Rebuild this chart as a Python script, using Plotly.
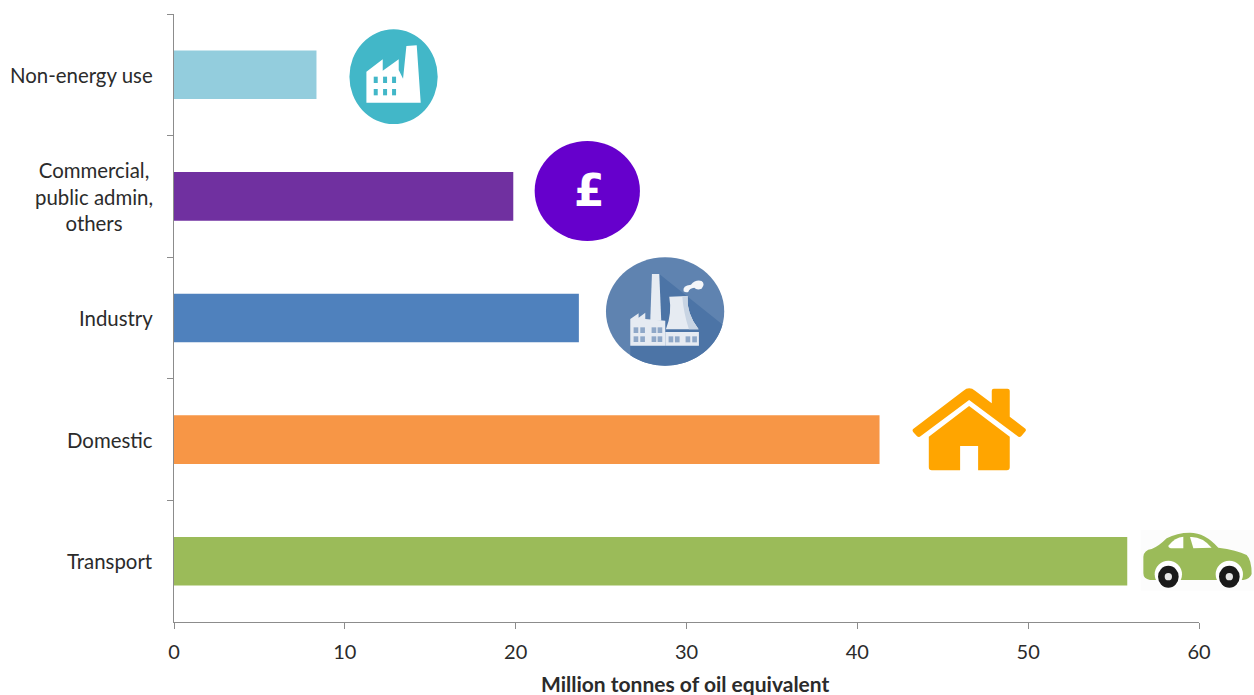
import re
import numpy as np
import plotly.graph_objects as go

# Final energy consumption by sector
sectors = ["Non-energy use", "Commercial,<br>public admin,<br>others", "Industry", "Domestic", "Transport"]
consumption = [8.34, 19.86, 23.7, 41.3, 55.8]
bar_colors = ["#93CDDD", "#7030A0", "#4F81BD", "#F79646", "#9BBB59"]
x_ticks = [0, 10, 20, 30, 40, 50, 60]
x_title = "Million tonnes of oil equivalent"

WIDTH, HEIGHT = 1254, 695
LEFT, RIGHT, TOP, BOTTOM = 173.5, 1199.0, 14.0, 622.0
FONT = "Lato"
TEXT = "#2b2b2b"
AXIS = "#8C8C8C"


def to_paper(px, py):
    return (px - LEFT) / (RIGHT - LEFT), 1 - (py - TOP) / (BOTTOM - TOP)


def icon_path(ox, oy, spec):
    """Turn a path written in 3x icon units, relative to (ox, oy), into paper coordinates."""
    out = []
    for cmd, nums in re.findall(r"([MLQCZ])([^MLQCZ]*)", spec):
        vals = [float(v) for v in re.findall(r"-?\d+\.?\d*", nums)]
        pts = []
        for a, b in zip(vals[::2], vals[1::2]):
            x, y = to_paper(ox + a / 3, oy + b / 3)
            pts.append(f"{x:.5f},{y:.5f}")
        out.append(cmd + " ".join(pts))
    return " ".join(out)


def filled(ox, oy, spec, color):
    return dict(type="path", xref="paper", yref="paper", layer="above",
                path=icon_path(ox, oy, spec), fillcolor=color, line=dict(width=0))


def disc(ox, oy, x0, y0, x1, y1, color):
    ax, ay = to_paper(ox + x0 / 3, oy + y0 / 3)
    bx, by = to_paper(ox + x1 / 3, oy + y1 / 3)
    return dict(type="circle", xref="paper", yref="paper", layer="above",
                x0=ax, x1=bx, y0=by, y1=ay, fillcolor=color, line=dict(width=0))


def box(ox, oy, x0, y0, x1, y1, color):
    return filled(ox, oy, f"M{x0},{y0} L{x1},{y0} L{x1},{y1} L{x0},{y1} Z", color)


shapes = []

# Factory badge beside non-energy use
ox, oy = 340, 20
teal = "#42B7C8"
shapes.append(disc(ox, oy, 27, 28, 292, 312, teal))
shapes.append(filled(ox, oy, "M78,155 L127,118 L127,152 L175,118 L175,150 L188,176 L198,78 L229,76 L241,248 L78,248 Z", "#FFFFFF"))
for wx in (100, 128, 155):
    for wy in (170, 207):
        shapes.append(box(ox, oy, wx, wy, wx + 12, wy + 19, teal))

# Pound badge beside commercial
shapes.append(disc(ox, oy, 583, 363, 899, 663, "#6600CC"))

# Power-station badge beside industry
ox, oy = 600, 250
cx, cy, rx, ry = 194.5, 184.5, 177.5, 162.5
base_blue = "#5F83B0"
shade_blue = "#4C74A6"
window_blue = "#8FA8C8"
shapes.append(disc(ox, oy, cx - rx, cy - ry, cx + rx, cy + ry, base_blue))
arc = np.radians(np.arange(14, 128, 4))
arc_pts = " ".join(f"L{cx + rx * np.cos(t):.1f},{cy + ry * np.sin(t):.1f}" for t in arc)
shapes.append(filled(ox, oy, f"M177,72 {arc_pts} L90,287 L150,210 Z", shade_blue))
pale, mid = "#E6EBF2", "#C8D4E3"
shapes.append(filled(ox, oy, "M155,72 L177,72 L183,212 L150,212 Z", pale))
shapes.append(filled(ox, oy, "M90,207 L115,190 L115,203 L135,188 L135,207 L195,212 L195,287 L90,287 Z", pale))
for wx in (100, 120, 154, 172):
    for wy in (232, 259):
        shapes.append(box(ox, oy, wx, wy, wx + 14, wy + 17, window_blue))
shapes.append(filled(ox, oy, "M207,140 L262,138 Q258,190 295,238 L197,238 Q216,190 207,140 Z", pale))
shapes.append(filled(ox, oy, "M246,139 L262,138 Q258,190 295,238 L266,238 Q250,190 246,139 Z", mid))
shapes.append(box(ox, oy, 195, 246, 296, 287, pale))
for wx in (205, 224, 256, 276):
    shapes.append(box(ox, oy, wx, 259, wx + 14, 277, window_blue))
shapes.append(filled(ox, oy, "M250,124 Q246,106 272,104 Q286,88 304,93 Q316,102 304,116 Q290,122 282,113 Q268,114 264,126 Q256,128 250,124 Z", "#F4F6F9"))

# House beside domestic
ox, oy = 900, 380
orange = "#FFA500"
shapes.append(filled(ox, oy, "M40,146 L190,32 Q207,18 225,32 L275,70 L275,32 Q275,26 281,26 L322,26 Q329,26 329,32 L329,110 L376,146 Q379,150 376,154 L364,168 Q358,174 352,168 L207,60 L62,168 Q56,174 50,168 L39,156 Q35,150 40,146 Z", orange))
shapes.append(filled(ox, oy, "M86,170 L207,78 L329,170 L329,262 Q329,271 320,271 L234,271 L234,198 L180,198 L180,271 L95,271 Q86,271 86,262 Z", orange))

# Car beside transport
shapes.append(box(ox, oy, 722, 450, 1062, 632, "#FCFCFC"))
green = "#9BBB59"
shapes.append(filled(ox, oy, "M730,530 Q732,510 755,507 Q775,500 800,475 Q830,458 870,458 Q915,458 955,503 Q1010,510 1040,525 Q1055,540 1055,582 Q1050,597 1030,600 L750,600 Q730,597 730,580 Z", green))
for wx in (805, 988):
    shapes.append(disc(ox, oy, wx - 41, 590 - 48, wx + 41, 590 + 34, "#FFFFFF"))
    shapes.append(disc(ox, oy, wx - 31, 590 - 33, wx + 31, 590 + 33, "#1A1A1A"))
    shapes.append(disc(ox, oy, wx - 11, 590 - 11, wx + 11, 590 + 11, "#E6E6E6"))
shapes.append(filled(ox, oy, "M805,497 Q825,472 850,470 L850,505 L818,505 Q805,505 805,497 Z", "#FFFFFF"))
shapes.append(filled(ox, oy, "M870,471 Q905,468 935,503 L880,505 Z", "#FFFFFF"))

# Category labels are centred line by line, so they are annotations rather than tick labels
label_x = (154.0 - LEFT) / (RIGHT - LEFT)
annotations = [
    dict(text=name, x=label_x, xref="paper", y=name, yref="y", xanchor="right", yanchor="middle",
         align="center", showarrow=False, font=dict(family=FONT, size=20.4, color=TEXT))
    for name in sectors
]
pound_x, pound_y = to_paper(589, 190)
annotations.append(dict(text="<b>£</b>", x=pound_x, y=pound_y, xref="paper", yref="paper",
                        xanchor="center", yanchor="middle", showarrow=False,
                        font=dict(family="DejaVu Sans", size=44, color="#FFFFFF")))

# Axis title as an annotation so the plot area keeps its fixed margins
title_x, title_y = to_paper(685.5, 683)
annotations.append(dict(text=f"<b>{x_title}</b>", x=title_x, y=title_y, xref="paper", yref="paper",
                        xanchor="center", yanchor="middle", showarrow=False,
                        font=dict(family=FONT, size=21, color=TEXT)))

fig = go.Figure(go.Bar(
    y=sectors, x=consumption, orientation="h",
    marker=dict(color=bar_colors, line=dict(width=0)),
))
fig.update_layout(
    width=WIDTH, height=HEIGHT,
    margin=dict(l=LEFT, r=WIDTH - RIGHT, t=TOP, b=HEIGHT - BOTTOM, pad=0),
    paper_bgcolor="#FFFFFF", plot_bgcolor="#FFFFFF",
    bargap=0.6, showlegend=False,
    shapes=shapes, annotations=annotations,
    xaxis=dict(
        range=[0, 60], tickvals=x_ticks, ticks="outside", ticklen=6, tickcolor=AXIS,
        showline=True, linecolor=AXIS, linewidth=1, showgrid=False, zeroline=False,
        tickfont=dict(family=FONT, size=20, color=TEXT), ticklabelstandoff=6,
    ),
    yaxis=dict(
        type="category", categoryorder="array", categoryarray=sectors, autorange="reversed",
        tickson="boundaries", ticks="outside", ticklen=6, tickcolor=AXIS,
        showline=True, linecolor=AXIS, linewidth=1, showgrid=False, zeroline=False,
        showticklabels=False,
    ),
)
fig.write_html("out.html", config=dict(displayModeBar=False))
